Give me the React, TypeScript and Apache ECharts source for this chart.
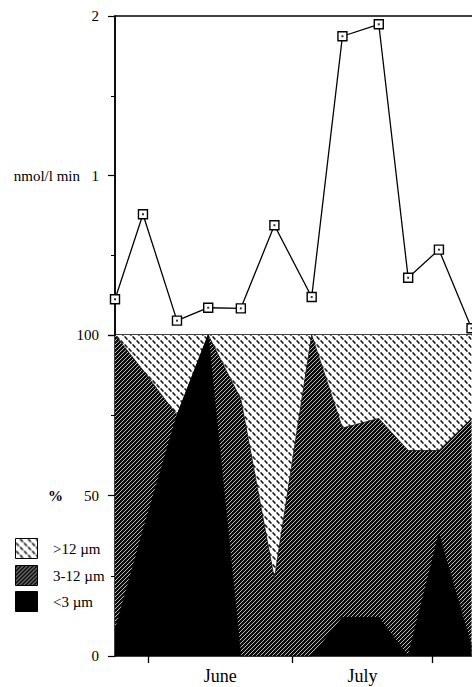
import React, { useEffect, useRef } from 'react';
import * as echarts from 'echarts';

// sampling dates (days from 1 June)
const sampleDays = [-7.1, -1.1, 6.2, 12.9, 19.9, 27.1, 35.1, 41.7, 49.5, 55.8, 62.4, 69.4];
// uptake rate, nmol/l min
const uptakeRate = [0.224, 0.757, 0.09, 0.171, 0.167, 0.688, 0.238, 1.873, 1.948, 0.359, 0.535, 0.042];
// size fractions, %
const pctSmall = [8, 39, 75, 100, 0, 0, 0, 12, 12, 0, 38, 3];
const pctMid = [92, 50, 0, 0, 80, 24, 100, 59, 62, 64, 26, 71];
const pctLarge = [0, 11, 25, 0, 20, 76, 0, 29, 26, 36, 36, 26];
const sizeClasses = ['>12 µm', '3-12 µm', '<3 µm'];
const monthTicks = [0, 31, 61];
const monthNames = ['June', 'July'];
const rateTicks = [0, 1, 2];
const pctTicks = [0, 50, 100];

const FONT = "'Liberation Serif', 'DejaVu Serif', serif";

function makeLightPattern() {
  const s = 8;
  const c = document.createElement('canvas');
  c.width = s;
  c.height = s;
  const ctx = c.getContext('2d')!;
  ctx.fillStyle = '#ffffff';
  ctx.fillRect(0, 0, s, s);
  ctx.strokeStyle = '#151515';
  ctx.lineWidth = 1.6;
  ctx.lineCap = 'round';
  const marks = [
    [2, 6],
    [6, 2],
  ];
  marks.forEach(([cx, cy]) => {
    ctx.beginPath();
    ctx.moveTo(cx - 0.9, cy - 1.1);
    ctx.lineTo(cx + 0.9, cy + 1.1);
    ctx.stroke();
  });
  return { image: c.toDataURL(), repeat: 'repeat', imageWidth: s, imageHeight: s };
}

function makeHatchPattern() {
  const c = document.createElement('canvas');
  c.width = 4;
  c.height = 4;
  const ctx = c.getContext('2d')!;
  ctx.fillStyle = '#0c0c0c';
  ctx.fillRect(0, 0, 4, 4);
  ctx.strokeStyle = '#dcdcdc';
  ctx.lineWidth = 0.85;
  ctx.beginPath();
  ctx.moveTo(-1, 1);
  ctx.lineTo(1, -1);
  ctx.moveTo(0, 4);
  ctx.lineTo(4, 0);
  ctx.moveTo(3, 5);
  ctx.lineTo(5, 3);
  ctx.stroke();
  return { image: c.toDataURL(), repeat: 'repeat', imageWidth: 4, imageHeight: 4 };
}

export default function App() {
  const ref = useRef<HTMLDivElement>(null);

  useEffect(() => {
    if (!ref.current) return;
    const chart = echarts.init(ref.current, null, { renderer: 'svg' });
    const light = makeLightPattern();
    const hatch = makeHatchPattern();

    const pairs = (vals: number[]) => sampleDays.map((d, i) => [d, vals[i]]);
    // cumulative boundaries of the stacked fractions
    const cumSmall = pctSmall.slice();
    const cumMid = pctSmall.map((v, i) => v + pctMid[i]);
    const cumAll = pctSmall.map((v, i) => v + pctMid[i] + pctLarge[i]);

    const xMin = sampleDays[0];
    const xMax = 71;
    const labelPos = monthNames.map((_, i) => (monthTicks[i] + monthTicks[i + 1]) / 2);

    const fills = [light, hatch, '#000000'];
    const legendTops = [538, 565, 591];

    const option: any = {
      animation: false,
      backgroundColor: '#ffffff',
      grid: [
        { left: 115, right: 0, top: 16, height: 319, show: true, borderColor: '#000', borderWidth: 1.5, backgroundColor: 'transparent' },
        { left: 115, right: 0, top: 335, height: 321, show: false },
      ],
      xAxis: [
        { type: 'value', gridIndex: 0, min: xMin, max: xMax, show: false },
        {
          type: 'value',
          gridIndex: 1,
          min: xMin,
          max: xMax,
          splitLine: { show: false },
          axisLine: { show: true, onZero: false, lineStyle: { color: '#000', width: 1.5 } },
          axisTick: { show: true, length: 7, customValues: monthTicks, lineStyle: { color: '#000', width: 1.3 } },
          axisLabel: {
            customValues: labelPos,
            formatter: (v: number) => {
              const i = labelPos.findIndex((p) => Math.abs(p - v) < 0.01);
              return i >= 0 ? monthNames[i] : '';
            },
            color: '#000',
            fontFamily: FONT,
            fontSize: 18,
            margin: 11,
          },
        },
      ],
      yAxis: [
        {
          type: 'value',
          gridIndex: 0,
          min: rateTicks[0],
          max: rateTicks[2],
          interval: 1,
          name: 'nmol/l min',
          nameLocation: 'middle',
          nameRotate: 0,
          nameGap: 35,
          nameTextStyle: { color: '#000', fontFamily: FONT, fontSize: 15 },
          splitLine: { show: false },
          axisLine: { show: true, onZero: false, lineStyle: { color: '#000', width: 1.5 } },
          axisTick: { show: true, length: 7, lineStyle: { color: '#000', width: 1.2 } },
          minorTick: { show: true, splitNumber: 2, length: 4, lineStyle: { color: '#000', width: 1 } },
          minorSplitLine: { show: false },
          axisLabel: { showMinLabel: false, color: '#000', fontFamily: FONT, fontSize: 15, margin: 16 },
        },
        {
          type: 'value',
          gridIndex: 1,
          min: pctTicks[0],
          max: pctTicks[2],
          interval: 50,
          name: '%',
          nameLocation: 'middle',
          nameRotate: 0,
          nameGap: 52,
          nameTextStyle: { color: '#000', fontFamily: FONT, fontSize: 15, fontWeight: 'bold' },
          splitLine: { show: false },
          axisLine: { show: true, onZero: false, lineStyle: { color: '#000', width: 1.5 } },
          axisTick: { show: true, length: 7, lineStyle: { color: '#000', width: 1.2 } },
          minorTick: { show: true, splitNumber: 2, length: 4, lineStyle: { color: '#000', width: 1 } },
          minorSplitLine: { show: false },
          axisLabel: { color: '#000', fontFamily: FONT, fontSize: 15, margin: 16 },
        },
      ],
      series: [
        {
          name: sizeClasses[0],
          type: 'line',
          xAxisIndex: 1,
          yAxisIndex: 1,
          data: pairs(cumAll),
          symbol: 'none',
          lineStyle: { width: 0 },
          areaStyle: { color: light, opacity: 1 },
          z: 1,
        },
        {
          name: sizeClasses[1],
          type: 'line',
          xAxisIndex: 1,
          yAxisIndex: 1,
          data: pairs(cumMid),
          symbol: 'none',
          lineStyle: { width: 0.8, color: '#111' },
          areaStyle: { color: hatch, opacity: 1 },
          z: 2,
        },
        {
          name: sizeClasses[2],
          type: 'line',
          xAxisIndex: 1,
          yAxisIndex: 1,
          data: pairs(cumSmall),
          symbol: 'none',
          lineStyle: { width: 0.8, color: '#000' },
          areaStyle: { color: '#000', opacity: 1 },
          z: 3,
        },
        {
          name: 'rate',
          type: 'line',
          xAxisIndex: 0,
          yAxisIndex: 0,
          data: pairs(uptakeRate),
          symbol: 'rect',
          symbolSize: 9,
          lineStyle: { color: '#000', width: 1.3 },
          itemStyle: { color: '#fff', borderColor: '#000', borderWidth: 1.4 },
          z: 4,
        },
        {
          name: 'rateDot',
          type: 'scatter',
          xAxisIndex: 0,
          yAxisIndex: 0,
          data: pairs(uptakeRate),
          symbol: 'rect',
          symbolSize: 2,
          itemStyle: { color: '#000' },
          z: 5,
        },
      ],
      graphic: sizeClasses.flatMap((name, i) => [
        {
          type: 'rect',
          left: 15,
          top: legendTops[i],
          shape: { width: 22, height: 20 },
          style: { fill: fills[i], stroke: '#000', lineWidth: 1 },
        },
        {
          type: 'text',
          left: 53,
          top: legendTops[i] + 3,
          style: { text: name, fill: '#000', font: `15px ${FONT}` },
        },
      ]),
    };

    chart.setOption(option);
    return () => chart.dispose();
  }, []);

  return (
    <div style={{ position: 'absolute', left: 0, top: 0, width: 472, height: 687, overflow: 'hidden', background: '#fff' }}>
      <div ref={ref} style={{ position: 'absolute', left: 0, top: 0, width: 479, height: 687 }} />
    </div>
  );
}
